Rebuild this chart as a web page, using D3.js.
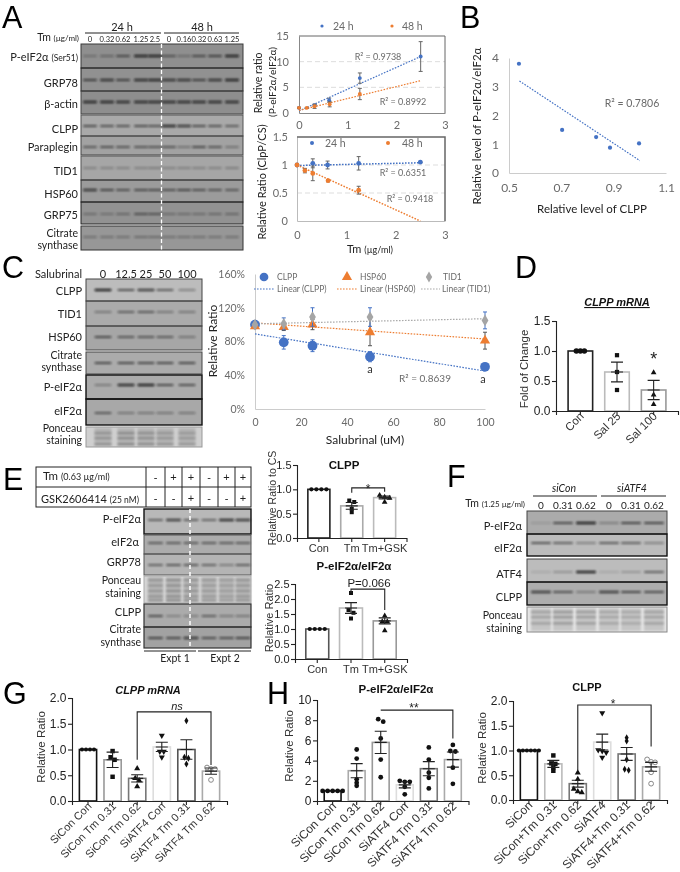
<!DOCTYPE html>
<html><head><meta charset="utf-8">
<script src="https://d3js.org/d3.v7.min.js"></script>
<style>html,body{margin:0;padding:0;background:#fff}svg{display:block;filter:blur(0.3px)}</style>
</head><body><script>
// ---------- DATA ----------
const tmA24 = [0, 0.32, 0.62, 1.25, 2.5];
const tmA48 = [0, 0.16, 0.32, 0.63, 1.25];
const pRatio24 = [1, 1.5, 2.5, 6.8, 11];
const pRatio24Err = [0.1, 0.2, 0.4, 1, 2.9];
const pRatio48 = [1, 1, 1.3, 1.7, 3.7];
const pRatio48Err = [0.1, 0.1, 0.4, 0.5, 1.1];
const pTrend24 = [[0, 0.4], [2.5, 11]];
const pTrend48 = [[0, 0.5], [2.5, 6.3]];
const clpCs24 = [1, 1.03, 1, 1.03, 1.05];
const clpCs24Err = [0, 0.08, 0.07, 0.12, 0.01];
const clpCs48 = [1, 0.9, 0.85, 0.72, 0.55];
const clpCs48Err = [0, 0.04, 0.13, 0.02, 0.07];
const cTrend24 = [[0, 0.99], [2.5, 1.04]];
const cTrend48 = [[0, 1], [2.5, 0]];
const bClpp = [0.538, 0.703, 0.833, 0.886, 0.997];
const bPeif = [3.8, 1.5, 1.25, 0.88, 1.03];
const bTrend = [[0.54, 3.2], [1.0, 0.43]];
const salDose = [0, 12.5, 25, 50, 100];
const salClpp = [100, 79, 75, 62, 50];
const salClppErr = [0, 8, 7, 6, 2];
const salHsp = [98, 97, 100, 91, 81];
const salHspErr = [0, 4, 6, 16, 10];
const salTid = [100, 101, 109, 109, 105];
const salTidErr = [0, 7, 11, 11, 10];
const salTrendClpp = [[0, 89], [100, 45]];
const salTrendHsp = [[0, 102], [100, 83]];
const salTrendTid = [[0, 101], [100, 107]];

const dCats = ['Con', 'Sal 25', 'Sal 100'];
const dVals = [1, 0.65, 0.35];
const dErrs = [0, 0.165, 0.16];
const dPts = [[1, 1, 1], [0.93, 0.65, 0.35], [0.64, 0.27, 0.11]];
const e1Cats = ['Con', 'Tm', 'Tm+GSK'];
const e1Vals = [1, 0.66, 0.83];
const e1Errs = [0, 0.07, 0.03];
const e1Pts = [[1, 1, 1, 1], [0.77, 0.74, 0.6, 0.53], [0.88, 0.84, 0.82, 0.74]];
const e2Vals = [1, 1.7, 1.27];
const e2Errs = [0, 0.18, 0.1];
const e2Pts = [[1, 1, 1, 1], [2.2, 1.63, 1.54, 1.35], [1.44, 1.25, 1.25, 0.95]];
const gCats = ['SiCon Con', 'SiCon Tm 0.31', 'SiCon Tm 0.62', 'SiATF4 Con', 'SiATF4 Tm 0.31', 'SiATF4 Tm 0.62'];
const gVals = [1, 0.8, 0.44, 1.05, 1, 0.58];
const gErrs = [0, 0.15, 0.07, 0.09, 0.19, 0.06];
const gPts = [[1, 1, 1, 1], [0.97, 0.85, 0.8, 0.47], [0.63, 0.44, 0.4, 0.28], [1.27, 0.96, 0.96, 0.85], [1.56, 0.85, 0.83, 0.72], [0.65, 0.62, 0.62, 0.41]];
const h1Vals = [1, 3, 5.8, 1.6, 3.2, 4.1];
const h1Errs = [0, 0.7, 1.1, 0.3, 0.7, 0.75];
const h1Pts = [[1, 1, 1, 1, 1], [5.1, 4.2, 2.15, 1.8, 1.5], [8.1, 7.85, 6.2, 4.1, 2.35], [1.9, 1.9, 2, 1.4, 0.66], [5.3, 4.1, 2.8, 2.3, 1.25], [5.55, 4.95, 4.9, 3.3, 1.7]];
const h2Cats = ['SiCon', 'SiCon+Tm 0.31', 'SiCon+Tm 0.62', 'SiATF4', 'SiATF4+Tm 0.31', 'SiATF4+Tm 0.62'];
const h2Vals = [1, 0.73, 0.33, 1.17, 0.93, 0.67];
const h2Errs = [0, 0.07, 0.07, 0.16, 0.13, 0.09];
const h2Pts = [[1, 1, 1, 1, 1, 1], [0.9, 0.74, 0.73, 0.66, 0.59], [0.55, 0.42, 0.22, 0.17, 0.15], [1.76, 1.01, 0.99, 0.96, 0.86], [1.26, 1.19, 0.82, 0.62, 0.6], [0.82, 0.77, 0.76, 0.56, 0.33]];

// blot band intensities (0..1), one array per antibody
const aLaneLabels = ['0', '0.32', '0.62', '1.25', '2.5', '0', '0.16', '0.32', '0.63', '1.25'];
const aPeif = [.25, .4, .55, .95, .95, .45, .3, .55, .65, .95];
const aGrp78 = [.7, .75, .7, .85, .9, .75, .75, .7, .75, .95];
const aActin = [.9, .9, .85, .85, .85, .85, .85, .85, .85, .85];
const aClpp = [.6, .55, .55, .6, .55, .95, .75, .6, .55, .45];
const aPara = [.45, .55, .5, .5, .5, .5, .35, .6, .5, .35];
const aTid = [.2, .2, .2, .2, .25, .2, .2, .2, .2, .25];
const aHsp = [.75, .65, .55, .6, .6, .55, .65, .55, .5, .45];
const aGrp75 = [.3, .25, .4, .5, .45, .3, .3, .3, .35, .4];
const aCs = [.3, .3, .3, .35, .35, .3, .3, .3, .3, .3];
const cLaneLabels = ['0', '12.5', '25', '50', '100'];
const cClpp = [1, .65, .75, .55, .4];
const cTid = [.4, .45, .5, .4, .4];
const cHsp = [.65, .5, .5, .45, .4];
const cCs = [.65, .65, .65, .65, .65];
const cPeif = [.35, .9, 1, .65, .6];
const cEif = [.5, .4, .4, .4, .4];
const ePeif = [.5, .75, .5, .45, .9, .8];
const eEif = [.5, .5, .5, .5, .5, .5];
const eGrp = [.45, .55, .55, .45, .4, .5];
const eClpp = [.6, .25, .3, .45, .35, .4];
const eCs = [.7, .65, .75, .6, .6, .7];
const eTm = ['-', '+', '+', '-', '+', '+'];
const eGsk = ['-', '-', '+', '-', '-', '+'];
const fLaneLabels = ['0', '0.31', '0.62', '0', '0.31', '0.62'];
const fPeif = [.1, .65, 1, .3, .7, .7];
const fEif = [.6, .5, .4, .55, .5, .4];
const fAtf = [.05, .2, 1, .08, .15, .5];
const fClpp = [.75, .6, .35, .75, .7, .65];
const pStripes = [.2, .24, .22, .18, .16];

// ---------- HELPERS ----------
const W = 680, H = 872;
const svg = d3.select('body').append('svg').attr('width', W).attr('height', H).attr('viewBox', `0 0 ${W} ${H}`);
svg.append('rect').attr('width', W).attr('height', H).attr('fill', '#fff');
const defs = svg.append('defs');
const mkBlur = (id, s) => defs.append('filter').attr('id', id).attr('x', '-30%').attr('y', '-300%').attr('width', '160%').attr('height', '700%')
  .append('feGaussianBlur').attr('stdDeviation', s);
mkBlur('bandBlur', 0.8);
mkBlur('stripeBlur', 1.1);
const ARIAL = '"Liberation Sans",Arial,sans-serif', CAL = 'Lato,"Open Sans",sans-serif';
const GREY = '#6a6a6a', BLUE = '#4472C4', ORANGE = '#ED7D31', MID = '#A5A5A5';

function txt(x, y, parts, o = {}) {
  const t = svg.append('text').attr('x', x).attr('y', y)
    .attr('font-family', o.font || CAL).attr('font-size', o.size || 12).attr('fill', o.fill || '#222')
    .attr('text-anchor', o.anchor || 'start');
  if (o.weight) t.attr('font-weight', o.weight);
  if (o.italic) t.attr('font-style', 'italic');
  if (o.underline) t.attr('text-decoration', 'underline');
  if (o.rotate !== undefined) t.attr('transform', `rotate(${o.rotate} ${x} ${y})`);
  (Array.isArray(parts) ? parts : [parts]).forEach(p => {
    if (typeof p === 'string') t.append('tspan').text(p);
    else t.append('tspan').attr('font-size', p.size).text(p.t);
  });
  return t;
}
const letter = (l, x, y) => txt(x, y, l, {font: ARIAL, size: 30.5, fill: '#000'});
const hline = (x0, x1, y, col = '#222', w = 1) => svg.append('line').attr('x1', x0).attr('x2', x1).attr('y1', y).attr('y2', y).attr('stroke', col).attr('stroke-width', w);

function blot(c) {
  const g = svg.append('g');
  const spacing = c.bandW;
  c.rows.forEach(r => {
    g.append('rect').attr('x', c.x0).attr('y', r.y0).attr('width', c.x1 - c.x0).attr('height', r.y1 - r.y0).attr('fill', r.bg);
    if (r.stripes) {
      c.lanes.forEach((lx, i) => {
        g.append('rect').attr('x', lx - spacing / 2).attr('y', r.y0 + 1).attr('width', spacing).attr('height', r.y1 - r.y0 - 2)
          .attr('fill', '#000').attr('opacity', 0.13).attr('filter', 'url(#stripeBlur)');
        r.stripes.forEach(fy => {
          g.append('rect').attr('x', lx - spacing / 2).attr('y', r.y0 + fy * (r.y1 - r.y0) - 1).attr('width', spacing).attr('height', 2.2)
            .attr('fill', '#000').attr('opacity', pStripes[i % pStripes.length]).attr('filter', 'url(#stripeBlur)');
        });
      });
    }
    if (r.vals) {
      r.vals.forEach((v, i) => {
        const h = 1 + 1.7 * v;
        g.append('rect').attr('x', c.lanes[i] - spacing / 2).attr('y', r.band - h / 2).attr('width', spacing).attr('height', h).attr('rx', 1)
          .attr('fill', '#111').attr('opacity', 0.2 + v * 0.65).attr('filter', 'url(#bandBlur)');
      });
    }
  });
  c.rows.forEach(r => {
    g.append('rect').attr('x', c.x0).attr('y', r.y0).attr('width', c.x1 - c.x0).attr('height', r.y1 - r.y0)
      .attr('fill', 'none').attr('stroke', r.border || '#333').attr('stroke-width', r.bw || 1);
  });
  c.labels.forEach(l => {
    const lx = l.x || c.labelX;
    if (l.lines) {
      // two-line labels: shrink slightly and open the leading so the lines do not collide
      const t = txt(lx, l.y, [], {anchor: 'end', size: 10.5});
      l.lines.forEach((s, i) => t.append('tspan').attr('x', lx).attr('dy', i ? 12.8 : 0).text(s));
    } else txt(lx, l.y, l.t, {anchor: 'end', size: c.labelSize || 11});
  });
}

function xyChart(c) {
  const x = d3.scaleLinear().domain(c.xDomain).range([c.left, c.right]);
  const y = d3.scaleLinear().domain(c.yDomain).range([c.bottom, c.top]);
  const g = svg.append('g');
  (c.grid || []).forEach(v => g.append('line').attr('x1', c.left).attr('x2', c.right).attr('y1', y(v)).attr('y2', y(v))
    .attr('stroke', '#ddd').attr('stroke-dasharray', '5 3'));
  const ax = g.append('g').attr('transform', `translate(0,${c.bottom})`)
    .call(d3.axisBottom(x).tickValues(c.xTicks).tickFormat(c.xFmt || (d => d)).tickSize(0).tickPadding(c.xPad));
  const ay = g.append('g').attr('transform', `translate(${c.left},0)`)
    .call(d3.axisLeft(y).tickValues(c.yTicks).tickFormat(c.yFmt || (d => d)).tickSize(0).tickPadding(c.yPad));
  [ax, ay].forEach(a => {
    a.selectAll('text').attr('font-family', CAL).attr('font-size', c.tickSize).attr('fill', GREY);
    a.select('.domain').attr('stroke', c.axisCol || '#bbb').attr('stroke-width', 1);
  });
  if (c.frame) {
    g.append('path').attr('d', `M${c.left},${c.top}H${c.right}V${c.bottom}`).attr('fill', 'none').attr('stroke', '#666').attr('stroke-width', c.frame);
  }
  const line = d3.line().x(d => x(d[0])).y(d => y(d[1]));
  c.trends.forEach(t => g.append('path').attr('d', line(t.d)).attr('fill', 'none').attr('stroke', t.col)
    .attr('stroke-width', t.w || 1.2).attr('stroke-dasharray', '1.6 1.4'));
  c.series.forEach(s => {
    s.x.forEach((vx, i) => {
      const e = s.err ? s.err[i] : 0;
      if (e > 0) {
        const px = x(vx) + (s.dx || 0);
        g.append('path').attr('d', `M${px - 2},${y(s.y[i] + e)}H${px + 2}M${px},${y(s.y[i] + e)}V${y(s.y[i] - e)}M${px - 2},${y(s.y[i] - e)}H${px + 2}`)
          .attr('fill', 'none').attr('stroke', s.errCol || '#666').attr('stroke-width', 1);
      }
    });
    g.selectAll(null).data(s.x.map((v, i) => [v, s.y[i]])).enter().append('path')
      .attr('transform', d => `translate(${x(d[0])},${y(d[1])})`)
      .attr('d', d3.symbol().type(s.sym || d3.symbolCircle).size(s.size || 12)).attr('fill', s.col);
  });
}

function swarm(vals, yScale, dx, thresh) {
  const idx = vals.map((v, i) => [v, i]).sort((a, b) => b[0] - a[0]);
  const out = [];
  let cl = [];
  const flush = () => { cl.forEach((p, j) => out.push({v: p[0], off: (j - (cl.length - 1) / 2) * dx})); cl = []; };
  idx.forEach(p => {
    if (cl.length && Math.abs(yScale(p[0]) - yScale(cl[cl.length - 1][0])) > thresh) flush();
    cl.push(p);
  });
  flush();
  return out;
}

function barChart(c) {
  const x = d3.scaleBand().domain(c.cats).range([c.left, c.right]).padding(c.pad);
  const y = d3.scaleLinear().domain([0, c.max]).range([c.bottom, c.top]);
  const g = svg.append('g');
  const sw = c.barStroke || 1.6;
  g.selectAll(null).data(c.cats).enter().append('rect')
    .attr('x', d => x(d)).attr('width', x.bandwidth())
    .attr('y', (d, i) => y(c.vals[i])).attr('height', (d, i) => y(0) - y(c.vals[i]))
    .attr('fill', '#fff').attr('stroke', (d, i) => c.colors[i]).attr('stroke-width', sw);
  const r = c.r || 24;
  c.cats.forEach((cat, i) => {
    const cx = x(cat) + x.bandwidth() / 2;
    const sym = c.syms[i % c.syms.length];
    swarm(c.pts[i], y, c.dx || 4, c.thresh || 3.5).forEach(p => {
      const s = g.append('path').attr('transform', `translate(${cx + p.off},${y(p.v)})${sym.flip ? ' rotate(180)' : ''}`)
        .attr('d', d3.symbol().type(sym.t).size(sym.size || r));
      if (sym.open) s.attr('fill', '#fff').attr('stroke', '#888').attr('stroke-width', 1);
      else s.attr('fill', '#111');
    });
    const e = c.errs[i];
    if (e > 0) {
      g.append('path').attr('d', `M${cx - 6},${y(c.vals[i] + e)}H${cx + 6}M${cx},${y(c.vals[i] + e)}V${y(c.vals[i] - e)}M${cx - 6},${y(c.vals[i] - e)}H${cx + 6}M${cx - 6},${y(c.vals[i])}H${cx + 6}`)
        .attr('fill', 'none').attr('stroke', '#222').attr('stroke-width', 1.1);
    }
  });
  const ay = g.append('g').attr('transform', `translate(${c.left},0)`)
    .call(d3.axisLeft(y).tickValues(c.yTicks).tickFormat(c.yFmt).tickSize(4).tickPadding(1.5));
  const ax = g.append('g').attr('transform', `translate(0,${c.bottom})`)
    .call(d3.axisBottom(x).tickSize(4).tickPadding(2));
  [ax, ay].forEach(a => {
    a.select('.domain').attr('stroke', '#222').attr('stroke-width', 1.1);
    a.selectAll('.tick line').attr('stroke', '#222').attr('stroke-width', 1.1);
    a.selectAll('text').attr('font-family', ARIAL).attr('fill', '#222').attr('font-size', c.tickSize || 12);
  });
  ax.selectAll('text').attr('font-size', c.catSize || 11).attr('fill', '#333');
  if (c.rotate) {
    ax.selectAll('text').attr('text-anchor', 'end').attr('dx', 3).attr('dy', 3)
      .attr('transform', 'rotate(-45 0 6)');
  }
  if (c.bracket) {
    const b = c.bracket;
    const x0 = x(c.cats[b.from]) + x.bandwidth() / 2, x1 = x(c.cats[b.to]) + x.bandwidth() / 2;
    g.append('path').attr('d', `M${x0},${y(b.l)}V${y(b.y)}H${x1}V${y(b.r)}`).attr('fill', 'none').attr('stroke', '#222').attr('stroke-width', 1.1);
    if (b.text) txt(b.tx !== undefined ? b.tx : (x0 + x1) / 2, y(b.y) + (b.dy === undefined ? -2 : b.dy), b.text,
      {font: ARIAL, size: b.size || 12, anchor: 'middle', italic: b.italic, fill: '#222'});
  }
  if (c.star) txt(x(c.cats[c.star.i]) + x.bandwidth() / 2, y(c.star.v), '*', {font: ARIAL, size: 18, anchor: 'middle', fill: '#222'});
  if (c.title) txt(c.title.x, c.title.y, c.title.t, {font: c.title.font || ARIAL, size: c.title.size || 12, weight: 700, italic: c.title.italic, underline: c.title.underline, anchor: 'middle', fill: '#111'});
  if (c.ytitle) txt(c.ytitle.x, c.ytitle.y, c.ytitle.t, {font: ARIAL, size: c.ytitle.size || 12, anchor: 'middle', rotate: -90, fill: '#333'});
}

// ---------- PANEL A ----------
letter('A', 2, 27.7);
txt(122, 31, '24 h', {size: 11, anchor: 'middle'});
txt(202, 31, '48 h', {size: 11, anchor: 'middle'});
hline(85, 161, 33); hline(164, 239, 33);
txt(79, 41, ['Tm ', {t: '(µg/ml)', size: 8}], {size: 10.5, anchor: 'end'});
const aLanes = [90, 107, 123, 141, 155, 169, 184, 199, 215, 232];
aLaneLabels.forEach((l, i) => txt(aLanes[i], 42, l, {size: 7.5, anchor: 'middle'}));
blot({x0: 81, x1: 243, lanes: aLanes, bandW: 14, labelX: 78,
  rows: [
    {y0: 44, y1: 68, bg: '#8f8f8f', vals: aPeif, band: 56, border: '#3a3a3a'},
    {y0: 68, y1: 91, bg: '#919191', vals: aGrp78, band: 80, border: '#222'},
    {y0: 91, y1: 114, bg: '#8e8e8e', vals: aActin, band: 102, border: '#444'},
    {y0: 115, y1: 136, bg: '#a9a9a9', vals: aClpp, band: 126, border: '#555'},
    {y0: 136, y1: 155, bg: '#a2a2a2', vals: aPara, band: 147, border: '#444'},
    {y0: 156, y1: 180, bg: '#a6a6a6', vals: aTid, band: 168, border: '#555'},
    {y0: 180, y1: 202, bg: '#9b9b9b', vals: aHsp, band: 190, border: '#333'},
    {y0: 202, y1: 224, bg: '#929292', vals: aGrp75, band: 214, border: '#222'},
    {y0: 226, y1: 250, bg: '#979797', vals: aCs, band: 237, border: '#333'}
  ],
  labels: [
    {t: ['P-eIF2α ', {t: '(Ser51)', size: 8.5}], y: 61}, {t: 'GRP78', y: 87}, {t: 'β-actin', y: 108},
    {t: 'CLPP', y: 133}, {t: 'Paraplegin', y: 151}, {t: 'TID1', y: 175}, {t: 'HSP60', y: 198},
    {t: 'GRP75', y: 219}, {lines: ['Citrate', 'synthase'], y: 236.5}
  ]});
svg.append('line').attr('x1', 161.5).attr('x2', 161.5).attr('y1', 44).attr('y2', 250).attr('stroke', '#fff').attr('stroke-width', 1.3).attr('stroke-dasharray', '4 2.5');

xyChart({left: 299, right: 445, top: 36, bottom: 113, xDomain: [0, 3], yDomain: [0, 15],
  xTicks: [0, 1, 2, 3], yTicks: [0, 5, 10, 15], xPad: 8, yPad: 10, tickSize: 11, grid: [5, 10], frame: 1, axisCol: '#888',
  trends: [{d: pTrend24, col: BLUE}, {d: pTrend48, col: ORANGE}],
  series: [
    {x: tmA24, y: pRatio24, err: pRatio24Err, col: BLUE},
    {x: tmA48, y: pRatio48, err: pRatio48Err, col: ORANGE}
  ]});
xyChart({left: 297, right: 445, top: 137, bottom: 221, xDomain: [0, 3], yDomain: [0, 1.5],
  xTicks: [0, 1, 2, 3], yTicks: [0, 0.5, 1, 1.5], xPad: 10, yPad: 9, tickSize: 11, grid: [0.5, 1], frame: 1.5, axisCol: '#bbb',
  trends: [{d: cTrend24, col: BLUE, w: 1.5}, {d: cTrend48, col: ORANGE, w: 1.5}],
  series: [
    {x: tmA24, y: clpCs24, err: clpCs24Err, col: BLUE, size: 18},
    {x: tmA48, y: clpCs48, err: clpCs48Err, col: ORANGE, size: 18}
  ]});
[[322, 26, BLUE], [392, 26, ORANGE], [312, 143, BLUE], [388, 143, ORANGE]].forEach(d =>
  svg.append('circle').attr('cx', d[0]).attr('cy', d[1]).attr('r', d[1] < 100 ? 1.6 : 2).attr('fill', d[2]));
txt(333, 30, '24 h', {size: 10.5, fill: GREY}); txt(402, 30, '48 h', {size: 10.5, fill: GREY});
txt(325, 147, '24 h', {size: 10.5, fill: GREY}); txt(402, 147, '48 h', {size: 10.5, fill: GREY});
txt(378, 60, 'R² = 0.9738', {size: 9, fill: GREY, anchor: 'middle'});
txt(403, 105, 'R² = 0.8992', {size: 9, fill: GREY, anchor: 'middle'});
txt(403, 176, 'R² = 0.6351', {size: 9, fill: GREY, anchor: 'middle'});
txt(410, 202, 'R² = 0.9418', {size: 9, fill: GREY, anchor: 'middle'});
txt(262, 83, 'Relative ratio', {size: 10.5, anchor: 'middle', rotate: -90});
txt(276, 82, '(P-eIF2α/eIF2α)', {size: 10, anchor: 'middle', rotate: -90});
txt(266, 182, 'Relative Ratio (ClpP/CS)', {size: 11, anchor: 'middle', rotate: -90});
txt(370, 253, ['Tm ', {t: '(µg/ml)', size: 9}], {size: 11, anchor: 'middle'});

// ---------- PANEL B ----------
letter('B', 460, 27.7);
xyChart({left: 509, right: 666, top: 58, bottom: 173, xDomain: [0.5, 1.1], yDomain: [0, 4],
  xTicks: [0.5, 0.7, 0.9, 1.1], yTicks: [0, 1, 2, 3, 4], xFmt: d3.format('.1f'), xPad: 10, yPad: 10, tickSize: 12, axisCol: '#ccc',
  trends: [{d: bTrend, col: BLUE}],
  series: [{x: bClpp, y: bPeif, col: BLUE, size: 14}]});
txt(632, 107, 'R² = 0.7806', {size: 10.5, fill: GREY, anchor: 'middle'});
txt(592, 213, 'Relative level of CLPP', {size: 11.5, anchor: 'middle'});
txt(481, 126, 'Relative level of P-eIF2α/eIF2α', {size: 11.5, anchor: 'middle', rotate: -90});

// ---------- PANEL C ----------
letter('C', 2, 278);
txt(82, 278, 'Salubrinal', {size: 11, anchor: 'end'});
const cLanes = [103, 126, 146, 165, 187];
cLaneLabels.forEach((l, i) => txt(cLanes[i], 278, l, {size: 11, anchor: 'middle'}));
const ponceauC = [.3, .55, .85];
blot({x0: 86, x1: 202, lanes: cLanes, bandW: 17, labelX: 82,
  rows: [
    {y0: 279, y1: 301, bg: '#bcbcbc', vals: cClpp, band: 290, border: '#444'},
    {y0: 301, y1: 326, bg: '#ababab', vals: cTid, band: 312, border: '#444'},
    {y0: 326, y1: 350, bg: '#a6a6a6', vals: cHsp, band: 337, border: '#444'},
    {y0: 352, y1: 374, bg: '#ababab', vals: cCs, band: 363, border: '#444'},
    {y0: 375, y1: 399, bg: '#ababab', vals: cPeif, band: 385, border: '#111', bw: 1.4},
    {y0: 399, y1: 425, bg: '#a8a8a8', vals: cEif, band: 413, border: '#111', bw: 1.4},
    {y0: 427, y1: 447, bg: '#cfcfcf', stripes: ponceauC, border: '#999'}
  ],
  labels: [
    {t: 'CLPP', y: 295}, {t: 'TID1', y: 318}, {t: 'HSP60', y: 341}, {lines: ['Citrate', 'synthase'], y: 358.5},
    {t: 'P-eIF2α', y: 391}, {t: 'eIF2α', y: 415}, {lines: ['Ponceau', 'staining'], y: 431.5}
  ]});
xyChart({left: 255, right: 485, top: 274, bottom: 409, xDomain: [0, 100], yDomain: [0, 160],
  xTicks: [0, 20, 40, 60, 80, 100], yTicks: [0, 40, 80, 120, 160], yFmt: d => d + '%', xPad: 10, yPad: 10, tickSize: 10.5, axisCol: '#ccc',
  trends: [{d: salTrendClpp, col: BLUE}, {d: salTrendHsp, col: ORANGE}, {d: salTrendTid, col: '#aaa'}],
  series: [
    {x: salDose, y: salClpp, err: salClppErr, col: BLUE, size: 75, errCol: BLUE},
    {x: salDose, y: salHsp, err: salHspErr, col: ORANGE, size: 45, sym: d3.symbolTriangle, errCol: '#555'},
    {x: salDose, y: salTid, err: salTidErr, col: MID, size: 40, sym: d3.symbolDiamond, errCol: BLUE}
  ]});
const lg = [
  {x: 264, sym: d3.symbolCircle, col: BLUE, size: 60, t: 'CLPP', tx: 277, lx0: 254, lx1: 275, lt: 'Linear (CLPP)', ltx: 277},
  {x: 347, sym: d3.symbolTriangle, col: ORANGE, size: 45, t: 'HSP60', tx: 360, lx0: 337, lx1: 357, lt: 'Linear (HSP60)', ltx: 360},
  {x: 429, sym: d3.symbolDiamond, col: MID, size: 35, t: 'TID1', tx: 443, lx0: 421, lx1: 440, lt: 'Linear (TID1)', ltx: 442}
];
lg.forEach(l => {
  svg.append('path').attr('transform', `translate(${l.x},277)`).attr('d', d3.symbol().type(l.sym).size(l.size)).attr('fill', l.col);
  txt(l.tx, 280, l.t, {size: 8.5, fill: GREY});
  svg.append('line').attr('x1', l.lx0).attr('x2', l.lx1).attr('y1', 289).attr('y2', 289).attr('stroke', l.col === MID ? '#aaa' : l.col).attr('stroke-width', 1.2).attr('stroke-dasharray', '1.6 1.4');
  txt(l.ltx, 292, l.lt, {size: 8.5, fill: GREY});
});
txt(370, 373, 'a', {size: 11, anchor: 'middle', fill: '#333'});
txt(483, 383, 'a', {size: 11, anchor: 'middle', fill: '#333'});
txt(425, 382, 'R² = 0.8639', {size: 10, fill: GREY, anchor: 'middle'});
txt(365, 444, 'Salubrinal (uM)', {size: 12, anchor: 'middle'});
txt(217, 341, 'Relative Ratio', {size: 12, anchor: 'middle', rotate: -90});

// ---------- PANEL D ----------
letter('D', 515, 278);
barChart({cats: dCats, vals: dVals, errs: dErrs, pts: dPts, left: 556, right: 678, top: 321, bottom: 411, max: 1.5, pad: 0.33,
  yTicks: [0, 0.5, 1, 1.5], yFmt: d3.format('.1f'), colors: ['#222', '#bbb', '#999'], catSize: 11.5, rotate: true, tickSize: 12,
  syms: [{t: d3.symbolCircle}, {t: d3.symbolSquare, size: 18}, {t: d3.symbolTriangle, size: 14}], dx: 4, star: {i: 2, v: 0.76},
  title: {t: 'CLPP mRNA', x: 617, y: 306, italic: true, underline: true, size: 11},
  ytitle: {t: 'Fold of Change', x: 528, y: 369, size: 11.5}});

// ---------- PANEL E ----------
letter('E', 3, 490);
const eCols = [146, 165, 182, 200, 218, 235, 251];
svg.append('rect').attr('x', 36).attr('y', 467).attr('width', 215).attr('height', 40).attr('fill', 'none').attr('stroke', '#222');
hline(36, 251, 487);
eCols.slice(0, 6).forEach(x => svg.append('line').attr('x1', x).attr('x2', x).attr('y1', 467).attr('y2', 507).attr('stroke', '#222'));
txt(43, 480, ['Tm ', {t: '(0.63 µg/ml)', size: 9}], {size: 11.5});
txt(41, 503, ['GSK2606414 ', {t: '(25 nM)', size: 8.5}], {size: 11});
const eLanes = eCols.slice(0, 6).map((x, i) => (x + eCols[i + 1]) / 2);
eTm.forEach((s, i) => txt(eLanes[i], 481, s, {font: ARIAL, size: 11, anchor: 'middle'}));
eGsk.forEach((s, i) => txt(eLanes[i], 502, s, {font: ARIAL, size: 11, anchor: 'middle'}));
const ponceauE = [.15, .35, .55, .75, .9];
blot({x0: 144, x1: 251, lanes: eLanes, bandW: 15, labelX: 141,
  rows: [
    {y0: 509, y1: 534, bg: '#b8b8b8', vals: ePeif, band: 520, border: '#111', bw: 1.4},
    {y0: 535, y1: 554, bg: '#acacac', vals: eEif, band: 543, border: '#555'},
    {y0: 554, y1: 575, bg: '#b4b4b4', vals: eGrp, band: 565, border: '#555'},
    {y0: 576, y1: 603, bg: '#d4d4d4', stripes: ponceauE, border: '#aaa'},
    {y0: 604, y1: 627, bg: '#ababab', vals: eClpp, band: 616, border: '#333', bw: 1.2},
    {y0: 627, y1: 648, bg: '#a2a2a2', vals: eCs, band: 638, border: '#333', bw: 1.2}
  ],
  labels: [
    {t: 'P-eIF2α', y: 523}, {t: 'eIF2α', y: 546, x: 139}, {t: 'GRP78', y: 566}, {lines: ['Ponceau', 'staining'], y: 584},
    {t: 'CLPP', y: 616}, {lines: ['Citrate', 'synthase'], y: 633}
  ]});
svg.append('line').attr('x1', 190).attr('x2', 190).attr('y1', 509).attr('y2', 648).attr('stroke', '#fff').attr('stroke-width', 1.5).attr('stroke-dasharray', '4 3');
hline(144, 196, 651); hline(198, 251, 651);
txt(175, 662, 'Expt 1', {size: 10.5, anchor: 'middle'});
txt(225, 662, 'Expt 2', {size: 10.5, anchor: 'middle'});
barChart({cats: e1Cats, vals: e1Vals, errs: e1Errs, pts: e1Pts, left: 297, right: 406.5, top: 465, bottom: 538, max: 1.5, pad: 0.33,
  yTicks: [0, 0.5, 1, 1.5], yFmt: d3.format('.1f'), colors: ['#222', '#aaa', '#bbb'], catSize: 11, tickSize: 11,
  syms: [{t: d3.symbolCircle, size: 14}, {t: d3.symbolSquare, size: 16}, {t: d3.symbolTriangle, size: 14}], dx: 5, thresh: 3,
  bracket: {from: 1, to: 2, y: 1.03, l: 0.93, r: 0.95, text: '*', dy: 5, size: 12},
  title: {t: 'CLPP', x: 344, y: 469, size: 11.5},
  ytitle: {t: 'Relative Ratio to CS', x: 276, y: 498, size: 10.5}});
barChart({cats: e1Cats, vals: e2Vals, errs: e2Errs, pts: e2Pts, left: 295, right: 407, top: 584, bottom: 659, max: 2.5, pad: 0.32,
  yTicks: [0, 0.5, 1, 1.5, 2, 2.5], yFmt: d3.format('.1f'), colors: ['#555', '#bbb', '#999'], catSize: 11, tickSize: 11,
  syms: [{t: d3.symbolCircle, size: 14}, {t: d3.symbolSquare, size: 16}, {t: d3.symbolTriangle, size: 14}], dx: 5, thresh: 3,
  bracket: {from: 1, to: 2, y: 2.33, l: 2.2, r: 1.63, text: 'P=0.066', tx: 369, dy: -2, size: 11.5},
  title: {t: 'P-eIF2α/eIF2α', x: 354, y: 570, size: 11.5},
  ytitle: {t: 'Relative Ratio', x: 273, y: 618, size: 11}});

// ---------- PANEL F ----------
letter('F', 447, 487);
txt(564, 492, 'siCon', {size: 10.5, anchor: 'middle', italic: true});
txt(632, 492, 'siATF4', {size: 10.5, anchor: 'middle', italic: true});
hline(533, 597, 496); hline(601, 666, 496);
txt(525, 507, ['Tm ', {t: '(1.25 µg/ml)', size: 8}], {size: 10.5, anchor: 'end'});
const fLanes = [541, 563, 586, 609, 631, 654];
fLaneLabels.forEach((l, i) => txt(fLanes[i], 509, l, {size: 10, anchor: 'middle'}));
const ponceauF = [.2, .4, .65];
blot({x0: 527, x1: 667, lanes: fLanes, bandW: 20, labelX: 522,
  rows: [
    {y0: 511, y1: 534, bg: '#ababab', vals: fPeif, band: 523, border: '#444'},
    {y0: 534, y1: 556, bg: '#bcbcbc', vals: fEif, band: 543, border: '#111', bw: 1.4},
    {y0: 559, y1: 582, bg: '#bcbcbc', vals: fAtf, band: 572, border: '#444'},
    {y0: 582, y1: 605, bg: '#adadad', vals: fClpp, band: 592, border: '#111', bw: 1.4},
    {y0: 607, y1: 632, bg: '#e4e4e4', stripes: ponceauF, border: '#888'}
  ],
  labels: [
    {t: 'P-eIF2α', y: 530}, {t: 'eIF2α', y: 552}, {t: 'ATF4', y: 578}, {t: 'CLPP', y: 601},
    {lines: ['Ponceau', 'staining'], y: 619}
  ]});

// ---------- PANEL G ----------
letter('G', 3, 704);
const gSyms = [{t: d3.symbolCircle, size: 14}, {t: d3.symbolSquare, size: 20}, {t: d3.symbolTriangle, size: 16},
  {t: d3.symbolTriangle, size: 16, flip: true}, {t: d3.symbolDiamond, size: 14}, {t: d3.symbolCircle, size: 18, open: true}];
barChart({cats: gCats, vals: gVals, errs: gErrs, pts: gPts, left: 72, right: 227, top: 698, bottom: 801, max: 2, pad: 0.3,
  yTicks: [0, 0.5, 1, 1.5, 2], yFmt: d3.format('.1f'), colors: ['#111', '#999', '#777', '#ddd', '#555', '#aaa'], rotate: true, catSize: 11, tickSize: 12,
  syms: gSyms, dx: 4, thresh: 3,
  bracket: {from: 2, to: 5, y: 1.73, l: 0.8, r: 0.7, text: 'ns', dy: -1.5, italic: true, tx: 177, size: 11},
  title: {t: 'CLPP mRNA', x: 148, y: 694, italic: true, size: 11},
  ytitle: {t: 'Relative Ratio', x: 45, y: 747, size: 11.5}});

// ---------- PANEL H ----------
letter('H', 267, 704);
const hDots = [{t: d3.symbolCircle, size: 18}];
barChart({cats: gCats, vals: h1Vals, errs: h1Errs, pts: h1Pts, left: 317, right: 468.5, top: 700, bottom: 801, max: 10, pad: 0.3,
  yTicks: [0, 2, 4, 6, 8, 10], yFmt: d => d, colors: ['#111', '#aaa', '#999', '#ddd', '#777', '#aaa'], rotate: true, catSize: 12, tickSize: 12,
  syms: hDots, dx: 5, thresh: 3,
  bracket: {from: 2, to: 5, y: 9, l: 9, r: 6.2, text: '**', dy: 2, tx: 414, size: 12},
  title: {t: 'P-eIF2α/eIF2α', x: 396, y: 693, size: 11.5},
  ytitle: {t: 'Relative Ratio', x: 293, y: 746, size: 11.5}});
const h2Syms = [{t: d3.symbolCircle, size: 14}, {t: d3.symbolSquare, size: 20}, {t: d3.symbolTriangle, size: 16},
  {t: d3.symbolTriangle, size: 16, flip: true}, {t: d3.symbolDiamond, size: 14}, {t: d3.symbolCircle, size: 18, open: true}];
barChart({cats: h2Cats, vals: h2Vals, errs: h2Errs, pts: h2Pts, left: 513, right: 667, top: 701, bottom: 800, max: 2, pad: 0.3,
  yTicks: [0, 0.5, 1, 1.5, 2], yFmt: d3.format('.1f'), colors: ['#111', '#bbb', '#777', '#ddd', '#777', '#aaa'], rotate: true, catSize: 12, tickSize: 12,
  syms: h2Syms, dx: 4, thresh: 3,
  bracket: {from: 2, to: 5, y: 1.92, l: 0.6, r: 1.08, text: '*', dy: 3, tx: 613, size: 12},
  title: {t: 'CLPP', x: 587, y: 691, size: 11},
  ytitle: {t: 'Relative Ratio', x: 486, y: 748, size: 11.5}});
</script></body></html>
